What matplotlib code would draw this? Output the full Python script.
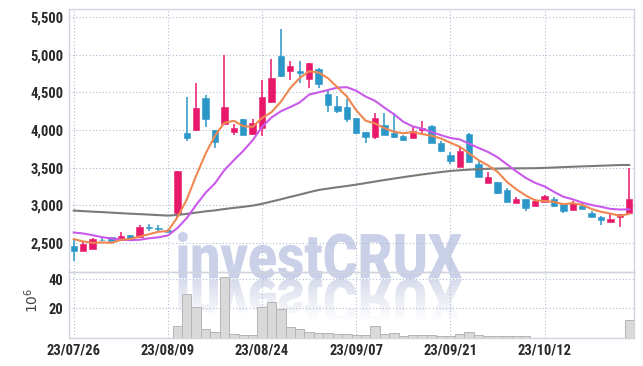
import numpy as np
import pandas as pd
import matplotlib
matplotlib.use("Agg")
import matplotlib.pyplot as plt
from matplotlib.textpath import TextPath
from matplotlib.patches import PathPatch, Rectangle
from matplotlib.transforms import Affine2D
from matplotlib import font_manager as fm

# ---------------- data ----------------
tick_dates = ["23/07/26", "23/08/09", "23/08/24", "23/09/07", "23/09/21", "23/10/12"]
tick_pos = [0, 10, 20, 30, 40, 50]

opens = [2460, 2400, 2425, 2545, 2575, 2540, 2605, 2585, 2705, 2700,
         2675, 2900, 3955, 4005, 4420, 4000, 4085, 3975, 4145, 3950,
         4020, 4375, 4980, 4785, 4780, 4675, 4810, 4480, 4320, 4300,
         4160, 3970, 3905, 4065, 3960, 3920, 3900, 4000, 4055, 3830,
         3670, 3515, 3945, 3545, 3300, 3305, 3205, 3035, 3085, 2995,
         3050, 3080, 3020, 2940, 2995, 2895, 2840, 2780, 2845, 2895]
highs = [2540, 2520, 2560, 2560, 2580, 2640, 2610, 2735, 2748, 2745,
         2680, 3450, 4440, 4620, 4460, 4000, 4990, 4085, 4150, 4140,
         4665, 4940, 5335, 4910, 4910, 4885, 4825, 4520, 4445, 4405,
         4160, 3975, 4230, 4220, 4220, 3940, 4055, 4125, 4060, 3850,
         3710, 3770, 3965, 3590, 3445, 3310, 3225, 3115, 3090, 3080,
         3135, 3105, 3030, 3060, 3025, 2930, 2860, 2880, 2885, 3490]
lows = [2265, 2395, 2420, 2520, 2520, 2530, 2540, 2570, 2663, 2660,
        2640, 2850, 3855, 3990, 4035, 3755, 4080, 3930, 3935, 3935,
        3915, 4355, 4705, 4665, 4620, 4555, 4555, 4240, 4220, 4110,
        3945, 3830, 3875, 3935, 3895, 3860, 3890, 3935, 3825, 3705,
        3555, 3510, 3570, 3370, 3300, 3155, 3040, 3035, 2930, 2995,
        3045, 2980, 2895, 2935, 2945, 2845, 2735, 2775, 2715, 2890]
closes = [2400, 2485, 2555, 2540, 2530, 2595, 2550, 2710, 2700, 2690,
          2645, 3450, 3890, 4290, 4150, 3845, 4300, 4025, 3940, 4095,
          4435, 4685, 4720, 4850, 4760, 4885, 4605, 4335, 4255, 4150,
          3965, 3910, 4155, 3940, 3910, 3870, 3985, 4025, 3830, 3725,
          3590, 3720, 3580, 3380, 3380, 3170, 3050, 3085, 2970, 3055,
          3125, 2995, 2930, 3035, 2950, 2850, 2805, 2815, 2880, 3090]
# closes of the 9 sessions before the first visible candle (for the moving averages)
prior_closes = [2615, 2785, 2800, 2710, 2725, 2640, 2650, 2510, 2560]
# 60-day moving average
ma60 = [2930, 2923, 2916, 2910, 2903, 2896, 2889, 2883, 2877, 2870,
        2864, 2872, 2886, 2903, 2920, 2933, 2951, 2966, 2980, 2996,
        3020, 3050, 3080, 3112, 3142, 3174, 3204, 3222, 3240, 3257,
        3275, 3295, 3316, 3336, 3355, 3374, 3392, 3410, 3426, 3442,
        3456, 3466, 3474, 3480, 3485, 3488, 3490, 3491, 3492, 3493,
        3497, 3502, 3507, 3512, 3517, 3521, 3526, 3530, 3535, 3535]
volume_m = [0, 0, 0, 0, 0, 0, 0, 0, 0, 0,
            0, 8.0, 30.1, 20.9, 6.0, 3.9, 41.1, 2.5, 1.6, 1.6,
            20.9, 24.4, 19.8, 7.4, 6.0, 3.9, 3.2, 3.2, 2.5, 2.5,
            1.6, 1.6, 8.0, 2.5, 3.2, 0.9, 1.6, 1.6, 1.6, 0.9,
            0.9, 2.5, 3.9, 1.6, 0.9, 0.9, 0.9, 0.9, 0.9, 0,
            0, 0, 0, 0, 0, 0, 0, 0, 0, 12.2]

# ---------------- style ----------------
UP = "#e8186a"
DOWN = "#2b96c8"
C_MA5 = "#ef8750"
C_MA10 = "#c95aea"
C_MA60 = "#7a7a7a"
GRID = "#b3bbd3"
SPINE = "#d0d4de"
TXT = "#2a2a2a"

def pick_font(cands):
    for c in cands:
        try:
            fm.findfont(fm.FontProperties(family=c), fallback_to_default=False)
            return c
        except Exception:
            pass
    return "DejaVu Sans"

tfont = pick_font(["Roboto Condensed", "Liberation Sans Narrow", "DejaVu Sans"])
tprops = dict(family=tfont, weight="bold", size=10.5)
if tfont == "DejaVu Sans":
    tprops["stretch"] = "condensed"

W, H = 643, 366
fig = plt.figure(figsize=(W / 100, H / 100), dpi=100, facecolor="white")

L, R = 69.3, 633.7
axp = fig.add_axes([L / W, 1 - 271.7 / H, (R - L) / W, (271.7 - 9.3) / H])
axv = fig.add_axes([L / W, 1 - 337.7 / H, (R - L) / W, (337.7 - 271.7) / H], sharex=axp)
for ax in (axp, axv):
    ax.set_facecolor("none")
    for s in ax.spines.values():
        s.set_color(SPINE)
        s.set_linewidth(1.0)

x = np.arange(len(closes))

# candles
for i in x:
    o, h, l, c = opens[i], highs[i], lows[i], closes[i]
    col = UP if c >= o else DOWN
    axp.vlines(i, l, h, color=col, lw=1.1, zorder=3)
    axp.bar(i, max(abs(c - o), 6), bottom=min(o, c), width=0.68, color=col,
            edgecolor=col, lw=0.4, zorder=4)

allc = pd.Series(prior_closes + closes, dtype=float)
ma5 = allc.rolling(5).mean().values[len(prior_closes):]
ma10 = allc.rolling(10).mean().values[len(prior_closes):]
axp.plot(x, ma60, color=C_MA60, lw=1.5, zorder=5)
axp.plot(x, ma10, color=C_MA10, lw=1.5, zorder=5)
axp.plot(x, ma5, color=C_MA5, lw=1.5, zorder=6)

axp.set_xlim(-0.47, 59.47)
axp.set_ylim(2119, 5602)
yt = [2500, 3000, 3500, 4000, 4500, 5000, 5500]
axp.set_yticks(yt)
axp.set_yticklabels([f"{v:,}" for v in yt], **tprops, color=TXT)
axp.set_xticks(tick_pos)
axp.tick_params(axis="x", labelbottom=False, length=0)
axp.tick_params(axis="y", length=0, pad=4)
axp.grid(True, linestyle=(0, (1, 2)), color=GRID, lw=0.8, zorder=0)

# volume
vol = np.array(volume_m, dtype=float)
m = vol > 0
axv.bar(x[m], vol[m], width=1.0, color="#d9d9d9", edgecolor="#b5b5b5", lw=0.7, zorder=3)
axv.set_ylim(0, 45)
axv.set_yticks([20, 40])
axv.set_yticklabels(["20", "40"], **tprops, color=TXT)
axv.set_xticks(tick_pos)
axv.set_xticklabels(tick_dates, **tprops, color=TXT)
axv.tick_params(axis="both", length=0)
axv.tick_params(axis="y", pad=4)
axv.tick_params(axis="x", pad=4)
axv.grid(True, linestyle=(0, (1, 2)), color=GRID, lw=0.8, zorder=0)
fig.text(32 / W, 1 - 300 / H, r"$10^6$", rotation=90, ha="center", va="center",
         fontsize=10, color="#444444")

# watermark
wfam = pick_font(["Roboto", "DejaVu Sans"])
tp = TextPath((0, 0), "investCRUX", size=100,
              prop=fm.FontProperties(family=wfam, weight="black"))
bb = tp.get_extents()
x0, x1 = 178, 462
ybot, ytop = H - 279, H - 232
to_px = Affine2D().translate(-bb.x0, -bb.y0).scale((x1 - x0) / bb.width, (ytop - ybot) / bb.height).translate(x0, ybot)
main_path = Affine2D().scale(1 / W, 1 / H).transform_path(to_px.transform_path(tp))
fig.add_artist(PathPatch(main_path, facecolor="#c9d0e8", edgecolor="none",
                         transform=fig.transFigure, zorder=-1))
flip = Affine2D().scale(1, -1).translate(0, 2 * ybot)
refl_path = Affine2D().scale(1 / W, 1 / H).transform_path(flip.transform_path(to_px.transform_path(tp)))
nstrip = 10
sh = 4
for k in range(nstrip):
    yhi = ybot - k * sh
    ylo = yhi - sh
    pp = PathPatch(refl_path, facecolor="#cfd4e8", edgecolor="none",
                   alpha=0.8 * (1 - k / nstrip), transform=fig.transFigure, zorder=-1)
    clip = Rectangle((0, ylo / H), 1, sh / H, transform=fig.transFigure)
    pp.set_clip_path(clip)
    fig.add_artist(pp)

fig.savefig("out.png", dpi=100, facecolor="white")
